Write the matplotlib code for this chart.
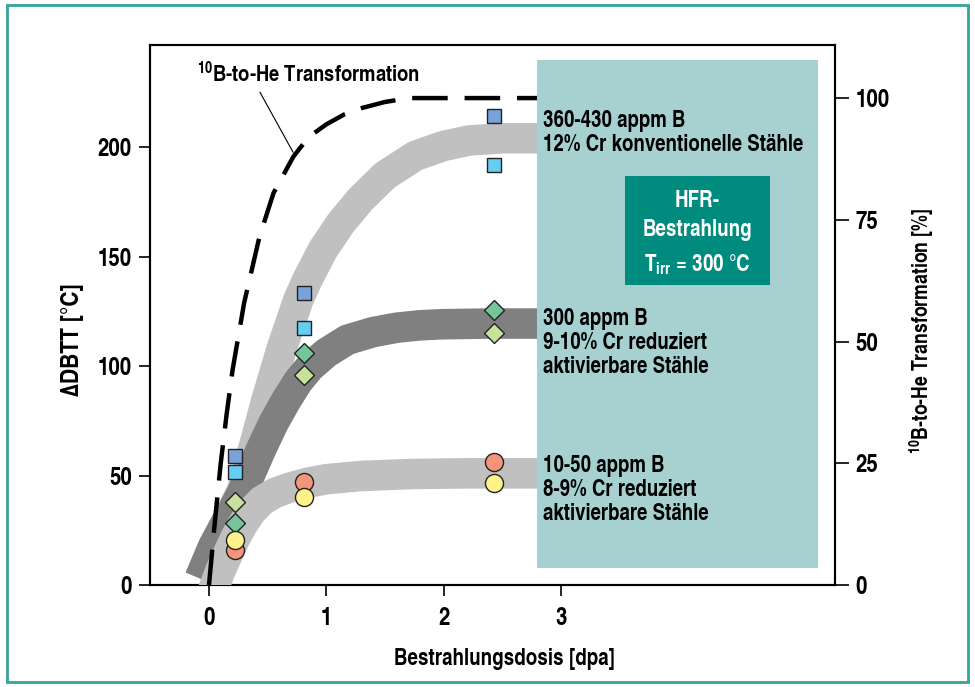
import matplotlib
matplotlib.use("Agg")
import matplotlib.pyplot as plt
from matplotlib.patches import Rectangle

FONT = ['TeX Gyre Heros Cn', 'DejaVu Sans']
plt.rcParams['font.family'] = FONT
plt.rcParams['font.weight'] = 'bold'
plt.rcParams['axes.labelweight'] = 'bold'
plt.rcParams['mathtext.fontset'] = 'custom'
plt.rcParams['mathtext.rm'] = 'TeX Gyre Heros Cn:bold'
plt.rcParams['mathtext.it'] = 'TeX Gyre Heros Cn:bold'
plt.rcParams['mathtext.bf'] = 'TeX Gyre Heros Cn:bold'

# ---- data ----
x_ticks = [0, 1, 2, 3]
y_ticks = [0, 50, 100, 150, 200]
y2_ticks = [0, 25, 50, 75, 100]

# 10B-to-He transformation (right axis, %)
trans_x = [0.0, 0.05, 0.1, 0.15, 0.2, 0.3, 0.43, 0.55, 0.72, 0.85, 1.0, 1.15, 1.31, 1.5, 1.71, 2.0, 2.8]
trans_y = [0, 13, 25, 35, 44, 58, 71.5, 80.5, 88, 92, 94.6, 96.6, 98, 99.2, 100, 100, 100]

# band for 360-430 appm B (light grey)
band_hi_x = [0.03, 0.16, 0.28, 0.375, 0.49, 0.62, 0.76, 0.835, 0.97, 1.12, 1.29, 1.5, 1.76, 2.0, 2.22, 2.5, 2.8]
band_hi_y = [17, 30, 43, 61.6, 84.5, 108, 130, 139, 153, 165, 176, 187, 196, 200.5, 203, 204, 204]

# band for 300 appm B (dark grey)
band_mid_x = [-0.08, 0.03, 0.16, 0.29, 0.44, 0.55, 0.66, 0.76, 0.86, 1.0, 1.18, 1.4, 1.6, 1.8, 2.0, 2.4, 2.8]
band_mid_y = [3, 17, 30, 43, 61.5, 74, 84.5, 93, 99.5, 106, 112, 115.5, 117.5, 118.6, 119.1, 119.4, 119.4]

# band for 10-50 appm B (light grey)
band_lo_x = [0.03, 0.1, 0.16, 0.22, 0.28, 0.36, 0.45, 0.56, 0.69, 0.85, 1.0, 1.3, 1.74, 2.2, 2.8]
band_lo_y = [-3, 7, 14, 21, 27, 33.5, 38.5, 42, 44.5, 46.8, 48.3, 49.8, 50.7, 51, 51]

# measurements
dose = [0.22, 0.81, 2.43]
sq_dark = [59, 133.5, 214]
sq_light = [51.5, 117.5, 192]
dia_dark = [28.5, 106, 125.5]
dia_light = [38, 96, 115]
circ_red = [16, 47, 56]
circ_yel = [20.5, 40, 46.5]

fig = plt.figure(figsize=(9.75, 6.87), dpi=100)
fig.patches.append(Rectangle((0.007, 0.008), 0.986, 0.984, transform=fig.transFigure,
                             fill=False, edgecolor='#33a396', linewidth=2.0, zorder=0))

ax = fig.add_axes([150/975, 102/687, 685/975, 540/687])
ax.set_xlim(-0.503, 5.337)
ax.set_ylim(0, 246.6)
ax2 = ax.twinx()
ax2.set_ylim(0, 110.9)
ax.set_zorder(2)
ax2.set_zorder(1)
ax.patch.set_visible(False)

# bands
band_kw = dict(lw=22, solid_capstyle='butt', solid_joinstyle='round')
ax.plot(band_hi_x, band_hi_y, color='#c0c0c0', zorder=1, **band_kw)
ax.plot(band_mid_x, band_mid_y, color='#808080', zorder=2, **band_kw)
ax.plot(band_lo_x, band_lo_y, color='#c0c0c0', zorder=3, **band_kw)

# transformation curve (right-axis percent mapped to left-axis units)
scale = 246.6 / 110.9
ax.plot(trans_x, [v * scale for v in trans_y], color='black', lw=3.2,
        dashes=(8, 3.8), dash_capstyle='butt', zorder=4)
ax.plot([0.435, 0.716], [225, 197.7], color='black', lw=0.8, zorder=4)
ax.text(-0.10, 229.5, r'$^{10}$B-to-He Transformation', fontsize=16.2, va='baseline',
        ha='left', zorder=6)

# markers
mk = dict(markeredgecolor='#222222', markeredgewidth=1.0, linestyle='none', zorder=5)
ax.plot(dose, sq_dark, marker='s', ms=10, color='#7aa2da', **mk)
ax.plot(dose, sq_light, marker='s', ms=10, color='#66cdf2', **mk)
ax.plot(dose, dia_dark, marker='D', ms=10, color='#74c699', **mk)
ax.plot(dose, dia_light, marker='D', ms=10, color='#c7e29c', **mk)
ax.plot(dose, circ_red, marker='o', ms=13, color='#f4957b', **mk)
ax.plot(dose, circ_yel, marker='o', ms=13, color='#fff28d', **mk)

# teal boxes
ax.add_patch(Rectangle((2.80, 7.8), 2.39, 231.9, facecolor='#a6d1d0', edgecolor='none', zorder=7))
ax.add_patch(Rectangle((3.546, 137), 1.237, 49.8, facecolor='#008b7f', edgecolor='none', zorder=8))
ax.text(4.165, 175.5, 'HFR-', color='white', fontsize=16.5, ha='center', va='center', zorder=9)
ax.text(4.165, 162.0, 'Bestrahlung', color='white', fontsize=16.5, ha='center', va='center', zorder=9)
ax.text(4.165, 146.5, r'T$_{\mathrm{irr}}$ = 300 °C', color='white', fontsize=16.5, ha='center',
        va='center', zorder=9)

lab_kw = dict(fontsize=16.4, ha='left', va='top', zorder=9, linespacing=1.12)
ax.text(2.85, 217.0, '360-430 appm B\n12% Cr konventionelle Stähle', **lab_kw)
ax.text(2.85, 126.5, '300 appm B\n9-10% Cr reduziert\naktivierbare Stähle', **lab_kw)
ax.text(2.85, 59.3, '10-50 appm B\n8-9% Cr reduziert\naktivierbare Stähle', **lab_kw)

# axes styling
for a in (ax, ax2):
    for s in a.spines.values():
        s.set_linewidth(1.5)
ax.set_xticks(x_ticks)
ax.set_yticks(y_ticks)
ax2.set_yticks(y2_ticks)
ax.tick_params(axis='both', direction='out', length=8, width=1.2, labelsize=18)
ax.tick_params(axis='x', pad=8)
ax.tick_params(axis='y', pad=5)
ax2.tick_params(axis='y', direction='out', length=10, width=1.2, labelsize=18, pad=5)

ax.set_xlabel('Bestrahlungsdosis [dpa]', fontsize=16.5)
ax.xaxis.set_label_coords(0.518, -0.117)
ax.set_ylabel('ΔDBTT [°C]', fontsize=18.5)
ax.yaxis.set_label_coords(-0.097, 0.455)
ax2.set_ylabel(r'$^{10}$B-to-He Transformation [%]', fontsize=15.5)
ax2.yaxis.set_label_coords(1.105, 0.47)

fig.savefig('out.png', dpi=100)
